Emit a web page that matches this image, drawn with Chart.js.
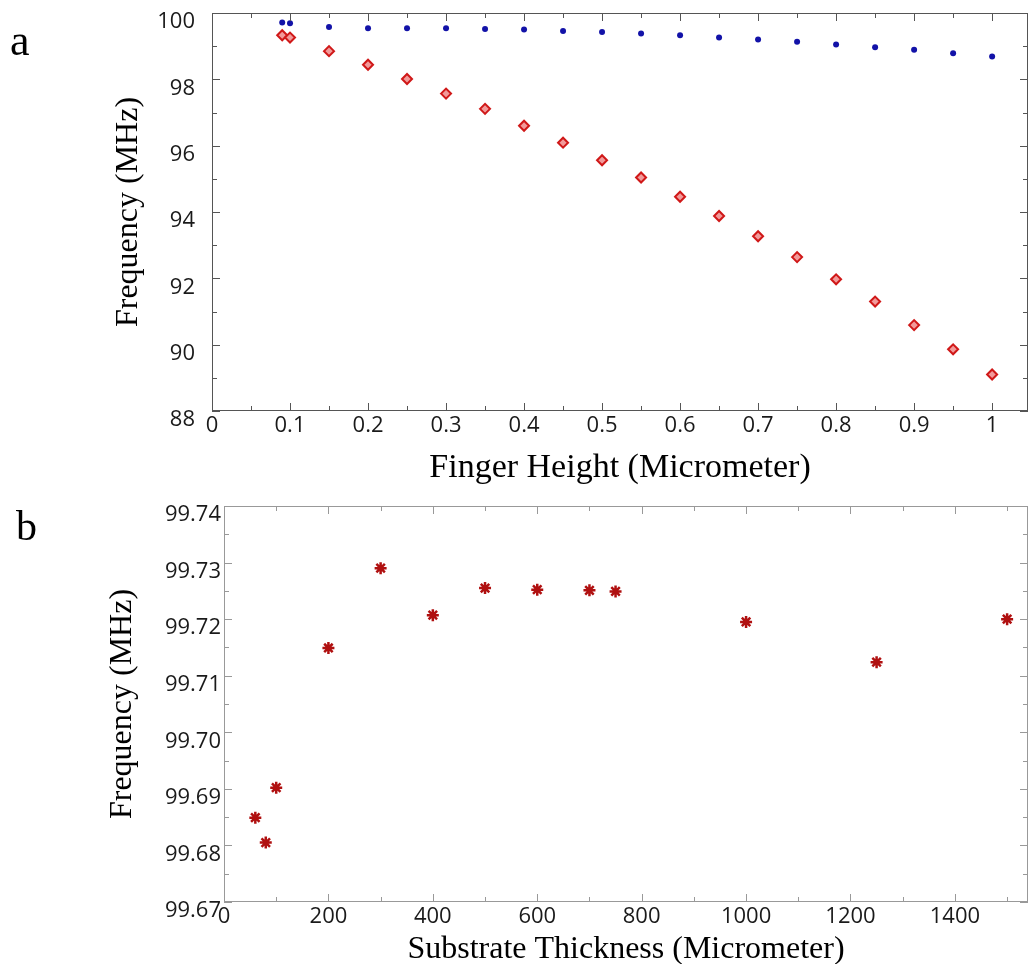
<!DOCTYPE html>
<html>
<head>
<meta charset="utf-8">
<script src="https://cdn.jsdelivr.net/npm/chart.js@4.4.1/dist/chart.umd.min.js"></script>
<style>
  html, body { margin: 0; padding: 0; background: #fff; overflow: hidden; }
  #page { position: relative; width: 1029px; height: 964px; }
  canvas { position: absolute; left: 0; }
  .tag { position: absolute; font-family: "Liberation Serif", serif; color: #000; line-height: 1; }
</style>
</head>
<body>
<div id="page">
  <canvas id="heightChart" width="1029" height="490" style="top:0"></canvas>
  <canvas id="substrateChart" width="1029" height="480" style="top:490px"></canvas>
  <div class="tag" style="left:10px;top:19px;font-size:44px">a</div>
  <div class="tag" style="left:16px;top:505px;font-size:42px">b</div>
</div>
<script>
// panel a: finger height sweep
const fingerHeight = [0.09, 0.1, 0.15, 0.2, 0.25, 0.3, 0.35, 0.4, 0.45, 0.5, 0.55, 0.6, 0.65, 0.7, 0.75, 0.8, 0.85, 0.9, 0.95, 1.0]
const freqBlue = [99.71, 99.69, 99.58, 99.54, 99.54, 99.54, 99.52, 99.50, 99.46, 99.43, 99.38, 99.33, 99.26, 99.20, 99.13, 99.05, 98.97, 98.89, 98.79, 98.69]
const freqRed = [99.33, 99.26, 98.85, 98.44, 98.01, 97.57, 97.11, 96.60, 96.09, 95.56, 95.04, 94.46, 93.88, 93.27, 92.64, 91.97, 91.30, 90.59, 89.86, 89.10]
const heightTicks = [0, 0.1, 0.2, 0.3, 0.4, 0.5, 0.6, 0.7, 0.8, 0.9, 1]
const freqTicksA = [88, 90, 92, 94, 96, 98, 100]

// panel b: substrate thickness sweep
const substrateThickness = [60, 80, 100, 200, 300, 400, 500, 600, 700, 750, 1000, 1250, 1500]
const freqSubstrate = [99.6849, 99.6805, 99.6902, 99.7149, 99.7290, 99.7207, 99.7255, 99.7252, 99.7251, 99.7249, 99.7195, 99.7124, 99.7200]
const thicknessTicks = [0, 200, 400, 600, 800, 1000, 1200, 1400]
const freqTicksB = [99.67, 99.68, 99.69, 99.70, 99.71, 99.72, 99.73, 99.74]

const toPoints = (xs, ys) => xs.map((x, i) => ({ x: x, y: ys[i] }))

function minorTicks(major, max) {
  const out = []
  for (let i = 0; i < major.length - 1; i++) out.push((major[i] + major[i + 1]) / 2)
  const step = major[1] - major[0]
  let v = major[major.length - 1] + step / 2
  if (v <= max) out.push(v)
  return out
}

// box around the plot with inward ticks on every side
const framePlugin = {
  id: 'frame',
  afterDraw(chart, args, opts) {
    const ctx = chart.ctx
    const a = chart.chartArea
    const xs = chart.scales.x
    const ys = chart.scales.y
    ctx.save()
    ctx.strokeStyle = opts.color
    ctx.lineWidth = 1
    ctx.strokeRect(a.left + 0.5, a.top + 0.5, a.right - a.left - 1, a.bottom - a.top - 1)
    ctx.beginPath()
    const xTick = (v, len) => {
      const px = Math.round(xs.getPixelForValue(v)) + 0.5
      ctx.moveTo(px, a.bottom); ctx.lineTo(px, a.bottom - len)
      ctx.moveTo(px, a.top); ctx.lineTo(px, a.top + len)
    }
    const yTick = (v, len) => {
      const py = Math.round(ys.getPixelForValue(v)) + 0.5
      ctx.moveTo(a.left, py); ctx.lineTo(a.left + len, py)
      ctx.moveTo(a.right, py); ctx.lineTo(a.right - len, py)
    }
    opts.xMajor.forEach(v => xTick(v, 8))
    minorTicks(opts.xMajor, xs.max).forEach(v => xTick(v, 5))
    opts.yMajor.forEach(v => yTick(v, 8))
    minorTicks(opts.yMajor, ys.max).forEach(v => yTick(v, 5))
    ctx.stroke()
    ctx.restore()
  }
}

function makeChart(id, datasets, s) {
  return new Chart(document.getElementById(id), {
    type: 'scatter',
    data: { datasets: datasets },
    options: {
      responsive: false,
      animation: false,
      layout: { padding: s.padding, autoPadding: false },
      plugins: {
        legend: { display: false },
        tooltip: { enabled: false },
        frame: { color: s.frameColor, xMajor: s.xTicks, yMajor: s.yTicks }
      },
      scales: {
        x: {
          type: 'linear',
          min: s.xMin,
          max: s.xMax,
          grid: { display: false, drawTicks: false },
          border: { display: false },
          afterBuildTicks: sc => { sc.ticks = s.xTicks.map(v => ({ value: v })) },
          afterFit: sc => {
            sc.height = s.xHeight
            sc.paddingLeft = 0
            sc.paddingRight = 0
          },
          ticks: {
            autoSkip: false,
            maxRotation: 0,
            padding: s.xPad,
            color: '#1a1a1a',
            font: { family: 'Open Sans', size: 22 },
            callback: s.xFmt
          },
          title: {
            display: true,
            text: s.xTitle,
            color: '#000',
            padding: { top: 0, bottom: 0 },
            font: { family: 'Liberation Serif', size: s.xTitleSize }
          }
        },
        y: {
          type: 'linear',
          min: s.yMin,
          max: s.yMax,
          grid: { display: false, drawTicks: false },
          border: { display: false },
          afterBuildTicks: sc => { sc.ticks = s.yTicks.map(v => ({ value: v })) },
          afterFit: sc => {
            sc.width = s.yWidth
            sc.paddingTop = 0
            sc.paddingBottom = 0
          },
          ticks: {
            autoSkip: false,
            padding: s.yPad,
            labelOffset: 9,
            color: '#1a1a1a',
            font: { family: 'Open Sans', size: 22 },
            callback: s.yFmt
          },
          title: {
            display: true,
            text: 'Frequency (MHz)',
            color: '#000',
            padding: { top: s.yTitlePad, bottom: 0 },
            font: { family: 'Liberation Serif', size: 32 }
          }
        }
      }
    },
    plugins: [framePlugin]
  })
}

makeChart('heightChart', [
  {
    label: 'mode 1',
    data: toPoints(fingerHeight, freqBlue),
    pointStyle: 'circle',
    pointRadius: 3,
    backgroundColor: '#1212a8',
    borderColor: '#1212a8',
    borderWidth: 0
  },
  {
    label: 'mode 2',
    data: toPoints(fingerHeight, freqRed),
    pointStyle: 'rectRot',
    pointRadius: 5,
    backgroundColor: '#f29a9a',
    borderColor: '#d01818',
    borderWidth: 2
  }
], {
  padding: { top: 13, right: 1, bottom: 2, left: 0 },
  frameColor: '#555',
  xMin: 0, xMax: 1.046, xTicks: heightTicks,
  yMin: 88, yMax: 100, yTicks: freqTicksA,
  xHeight: 77, yWidth: 212, xPad: 2, yPad: 17, yTitlePad: 109,
  xTitle: 'Finger Height (Micrometer)', xTitleSize: 34,
  xFmt: v => String(Number(v.toFixed(2))),
  yFmt: v => String(v)
})

makeChart('substrateChart', [
  {
    label: 'substrate',
    data: toPoints(substrateThickness, freqSubstrate),
    pointStyle: 'star',
    pointRadius: 6,
    backgroundColor: '#b01010',
    borderColor: '#b01010',
    borderWidth: 2.5
  }
], {
  padding: { top: 16, right: 1, bottom: 1, left: 0 },
  frameColor: '#999',
  xMin: 0, xMax: 1540, xTicks: thicknessTicks,
  yMin: 99.67, yMax: 99.74, yTicks: freqTicksB,
  xHeight: 67, yWidth: 224, xPad: 2, yPad: 3, yTitlePad: 103,
  xTitle: 'Substrate Thickness (Micrometer)', xTitleSize: 32,
  xFmt: v => String(v),
  yFmt: v => v.toFixed(2)
})
</script>
</body>
</html>
